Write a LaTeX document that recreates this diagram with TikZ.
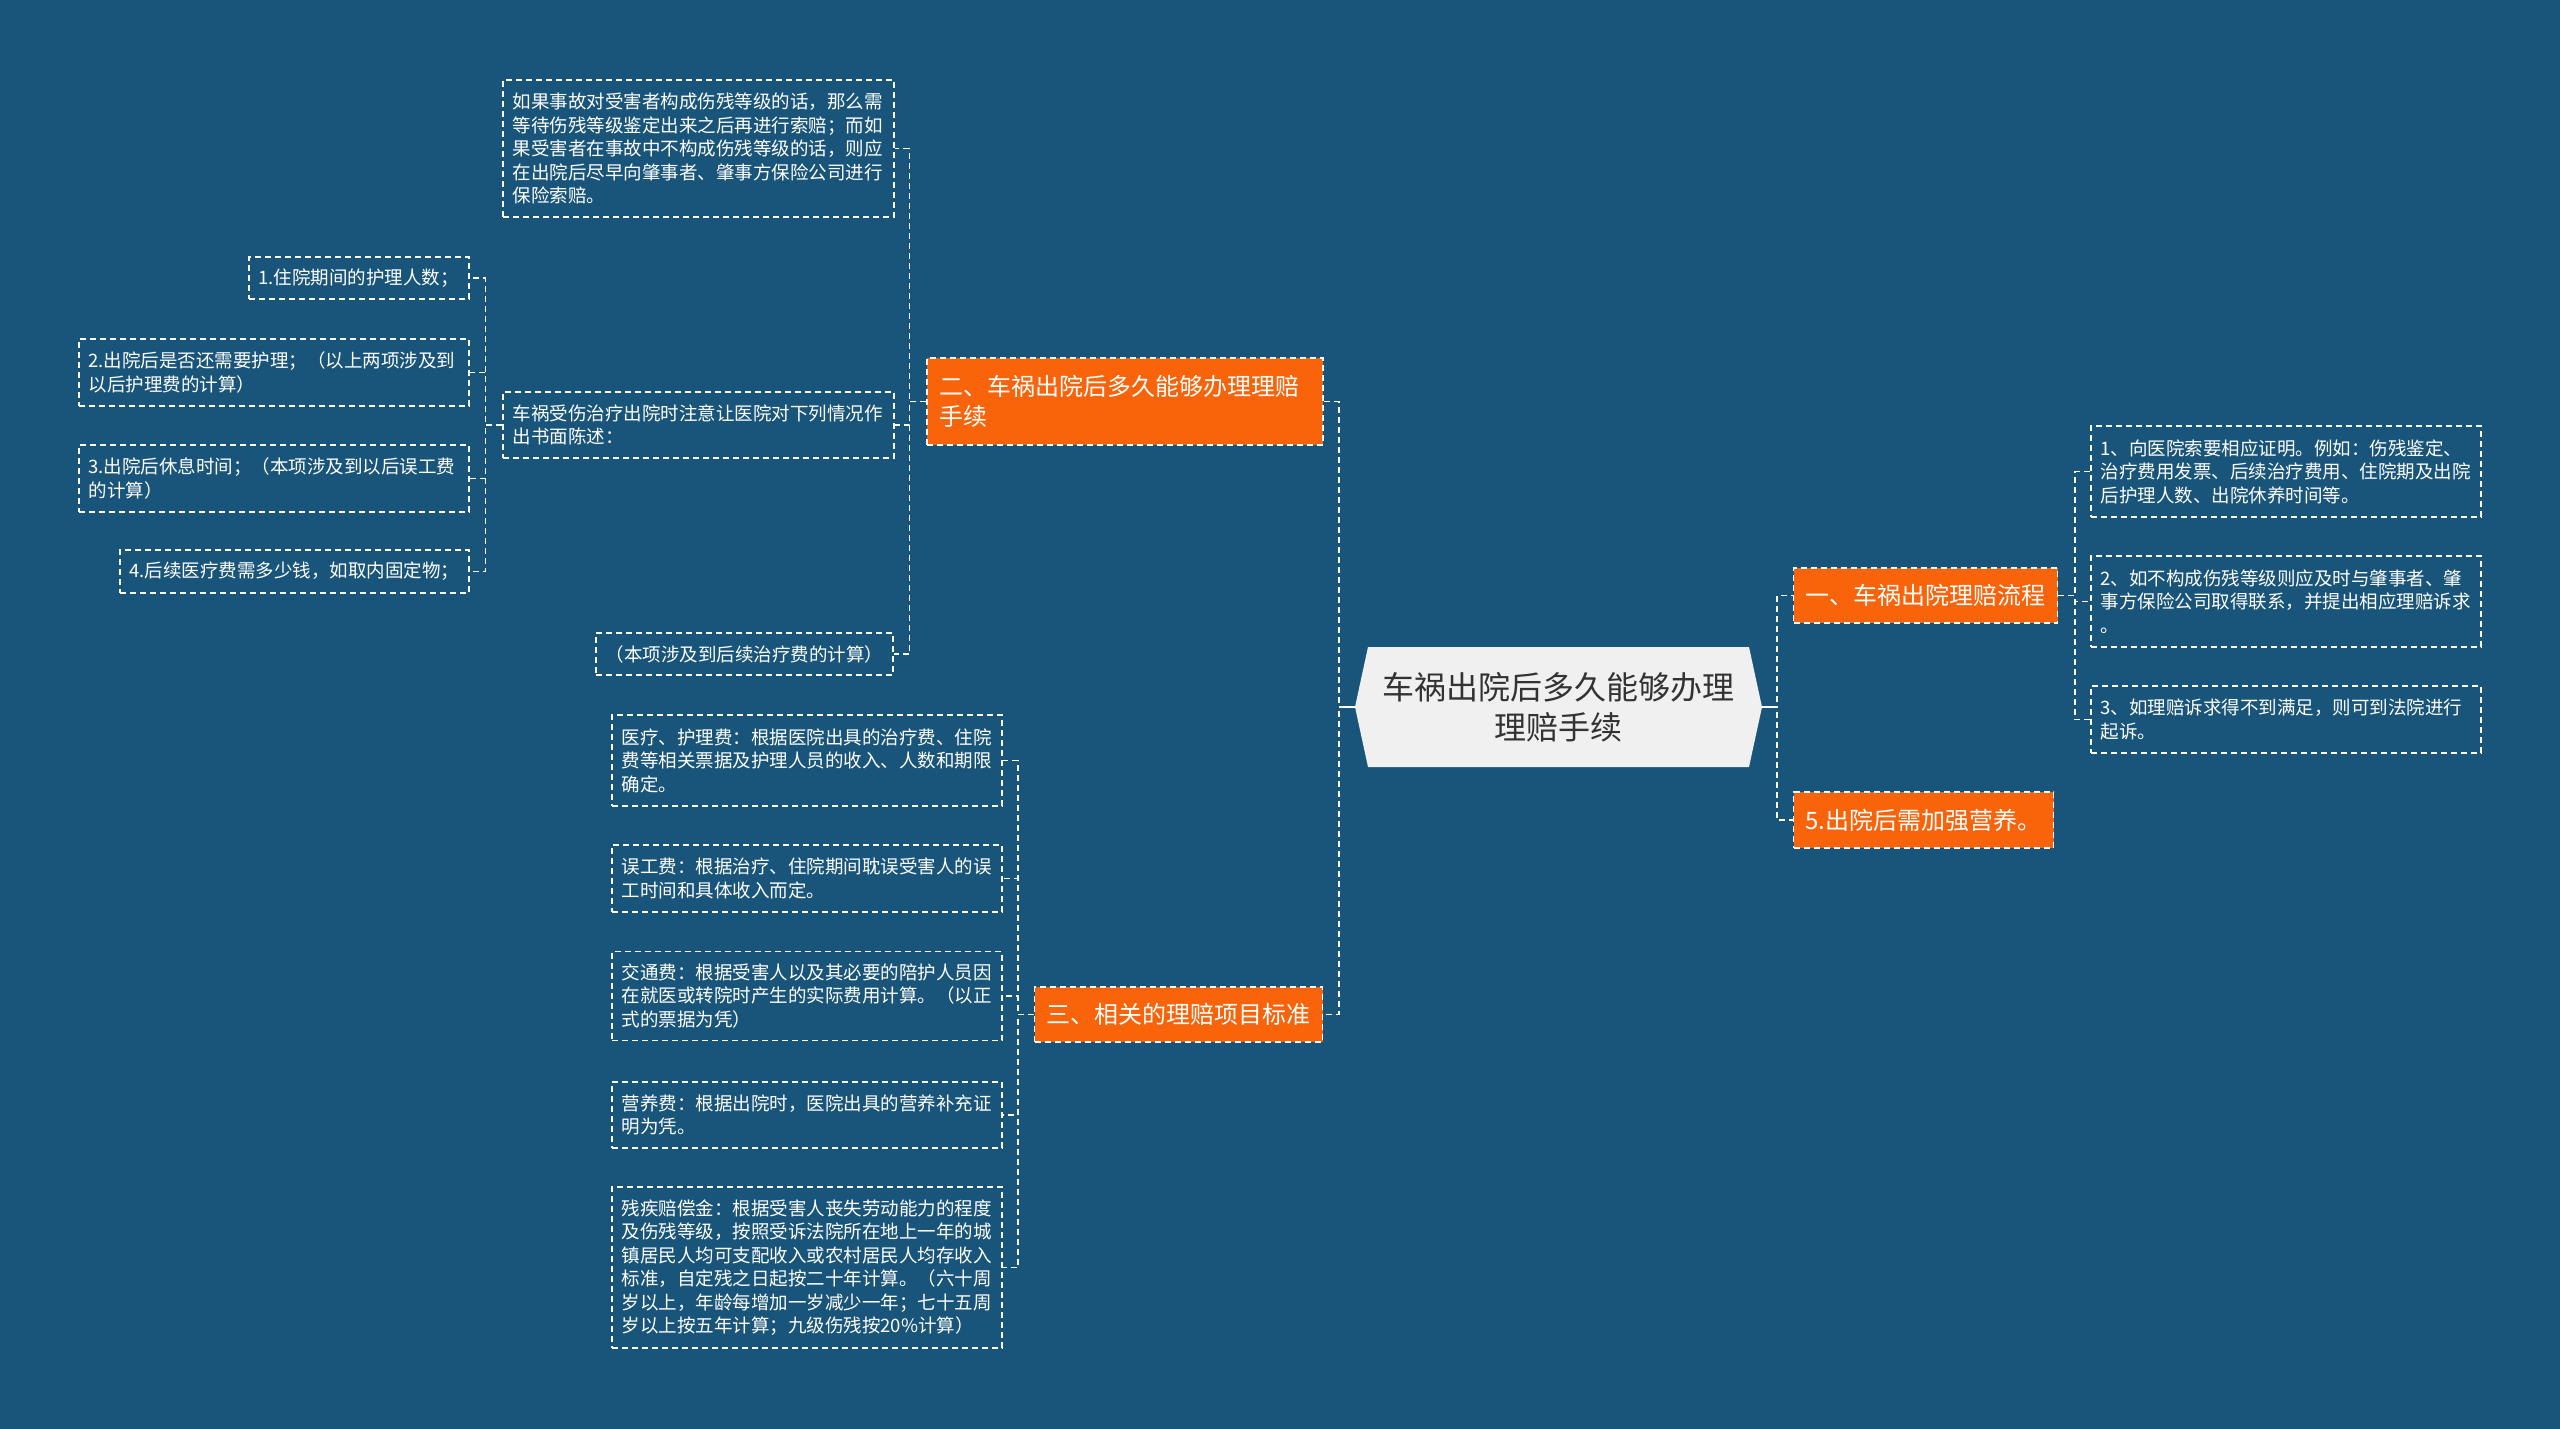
\documentclass[tikz,border=0pt]{standalone}
\usepackage{fontspec}
\setmainfont{Noto Sans CJK SC}
\definecolor{bg}{HTML}{19557A}
\definecolor{org}{HTML}{F9630A}
\definecolor{ctr}{HTML}{F0F0F0}
\definecolor{ctrtext}{HTML}{333333}
\tikzset{
  leaf/.style={draw=white, line width=1.4pt, dash pattern=on 6pt off 4pt, text=white,
    align=left, inner xsep=9.5pt, inner ysep=0pt, font=\fontsize{18.5}{23.5}\selectfont},
  topic/.style={fill=org, draw=white, line width=1.4pt, dash pattern=on 6pt off 4pt,
    text=white, align=left, inner xsep=12pt, inner ysep=0pt, font=\fontsize{24}{30}\selectfont},
  conn/.style={draw=white, line width=1.6pt, dash pattern=on 6pt off 4pt},
  stub/.style={draw=white, line width=1.6pt},
}
\begin{document}
\begin{tikzpicture}[x=1pt,y=-1pt]
\useasboundingbox (0,0) rectangle (2560,1429);
\fill[bg] (0,0) rectangle (2560,1429);

% central topic
\fill[ctr] (1355,707) -- (1368,647) -- (1749,647) -- (1762,707) -- (1749,767) -- (1368,767) -- cycle;
\node[text=ctrtext, align=center, minimum width=407pt, minimum height=120pt, inner sep=0pt,
  font=\fontsize{32}{40}\selectfont] (c) at (1558.5,707) {车祸出院后多久能够办理\\理赔手续};

% right main branches
\node[topic, minimum width=263pt, minimum height=55pt] (n1) at (1925.5,595.5) {一、车祸出院理赔流程};
\node[topic, minimum width=259pt, minimum height=56pt] (n5) at (1923.5,820) {5.出院后需加强营养。};

% left main branches
\node[topic, text width=372pt, minimum height=87pt] (n2) at (1125,401.5) {二、车祸出院后多久能够办理理赔\\手续};
\node[topic, minimum width=287pt, minimum height=55pt] (n3) at (1178.5,1014.5) {三、相关的理赔项目标准};

% right leaves
\node[leaf, text width=371pt, minimum height=91pt] (r1) at (2286,471.5) {1、向医院索要相应证明。例如：伤残鉴定、\\治疗费用发票、后续治疗费用、住院期及出院\\后护理人数、出院休养时间等。};
\node[leaf, text width=371pt, minimum height=91pt] (r2) at (2286,601.5) {2、如不构成伤残等级则应及时与肇事者、肇\\事方保险公司取得联系，并提出相应理赔诉求\\。};
\node[leaf, text width=371pt, minimum height=67pt] (r3) at (2286,719.5) {3、如理赔诉求得不到满足，则可到法院进行\\起诉。};

% children of n2
\node[leaf, text width=372pt, minimum height=137pt] (a1) at (698.5,148.5) {如果事故对受害者构成伤残等级的话，那么需\\等待伤残等级鉴定出来之后再进行索赔；而如\\果受害者在事故中不构成伤残等级的话，则应\\在出院后尽早向肇事者、肇事方保险公司进行\\保险索赔。};
\node[leaf, text width=372pt, minimum height=66pt] (a2) at (698.5,425) {车祸受伤治疗出院时注意让医院对下列情况作\\出书面陈述：};
\node[leaf, text width=278pt, minimum height=42pt] (a3) at (744.5,654) {（本项涉及到后续治疗费的计算）};

% grandchildren of a2
\node[leaf, text width=201pt, minimum height=42pt] (g1) at (359,278) {1.住院期间的护理人数；};
\node[leaf, text width=371pt, minimum height=67pt] (g2) at (274,372.5) {2.出院后是否还需要护理；（以上两项涉及到\\以后护理费的计算）};
\node[leaf, text width=371pt, minimum height=67pt] (g3) at (274,478.5) {3.出院后休息时间；（本项涉及到以后误工费\\的计算）};
\node[leaf, text width=330pt, minimum height=43pt] (g4) at (294.5,571.5) {4.后续医疗费需多少钱，如取内固定物；};

% children of n3
\node[leaf, text width=371pt, minimum height=91pt] (b1) at (807,760.5) {医疗、护理费：根据医院出具的治疗费、住院\\费等相关票据及护理人员的收入、人数和期限\\确定。};
\node[leaf, text width=371pt, minimum height=67pt] (b2) at (807,878.5) {误工费：根据治疗、住院期间耽误受害人的误\\工时间和具体收入而定。};
\node[leaf, text width=371pt, minimum height=89pt] (b3) at (807,996) {交通费：根据受害人以及其必要的陪护人员因\\在就医或转院时产生的实际费用计算。（以正\\式的票据为凭）};
\node[leaf, text width=371pt, minimum height=66pt] (b4) at (807,1115) {营养费：根据出院时，医院出具的营养补充证\\明为凭。};
\node[leaf, text width=371pt, minimum height=161pt] (b5) at (807,1267.5) {残疾赔偿金：根据受害人丧失劳动能力的程度\\及伤残等级，按照受诉法院所在地上一年的城\\镇居民人均可支配收入或农村居民人均存收入\\标准，自定残之日起按二十年计算。（六十周\\岁以上，年龄每增加一岁减少一年；七十五周\\岁以上按五年计算；九级伤残按20\%计算）};

% connectors
\draw[conn] (c.east) -- ++(15,0) |- (n1.west);
\draw[conn] (c.east) -- ++(15,0) |- (n5.west);
\draw[conn] (c.west) -- ++(-16,0) |- (n2.east);
\draw[conn] (c.west) -- ++(-16,0) |- (n3.east);
\draw[stub] (c.east) -- ++(15,0);
\draw[stub] (c.west) -- ++(-16,0);

\foreach \k in {r1,r2,r3} \draw[conn] (n1.east) -- ++(17,0) |- (\k.west);
\foreach \k in {a1,a2,a3} \draw[conn] (n2.west) -- ++(-17,0) |- (\k.east);
\foreach \k in {g1,g2,g3,g4} \draw[conn] (a2.west) -- ++(-17,0) |- (\k.east);
\foreach \k in {b1,b2,b3,b4,b5} \draw[conn] (n3.west) -- ++(-16,0) |- (\k.east);
\end{tikzpicture}
\end{document}
